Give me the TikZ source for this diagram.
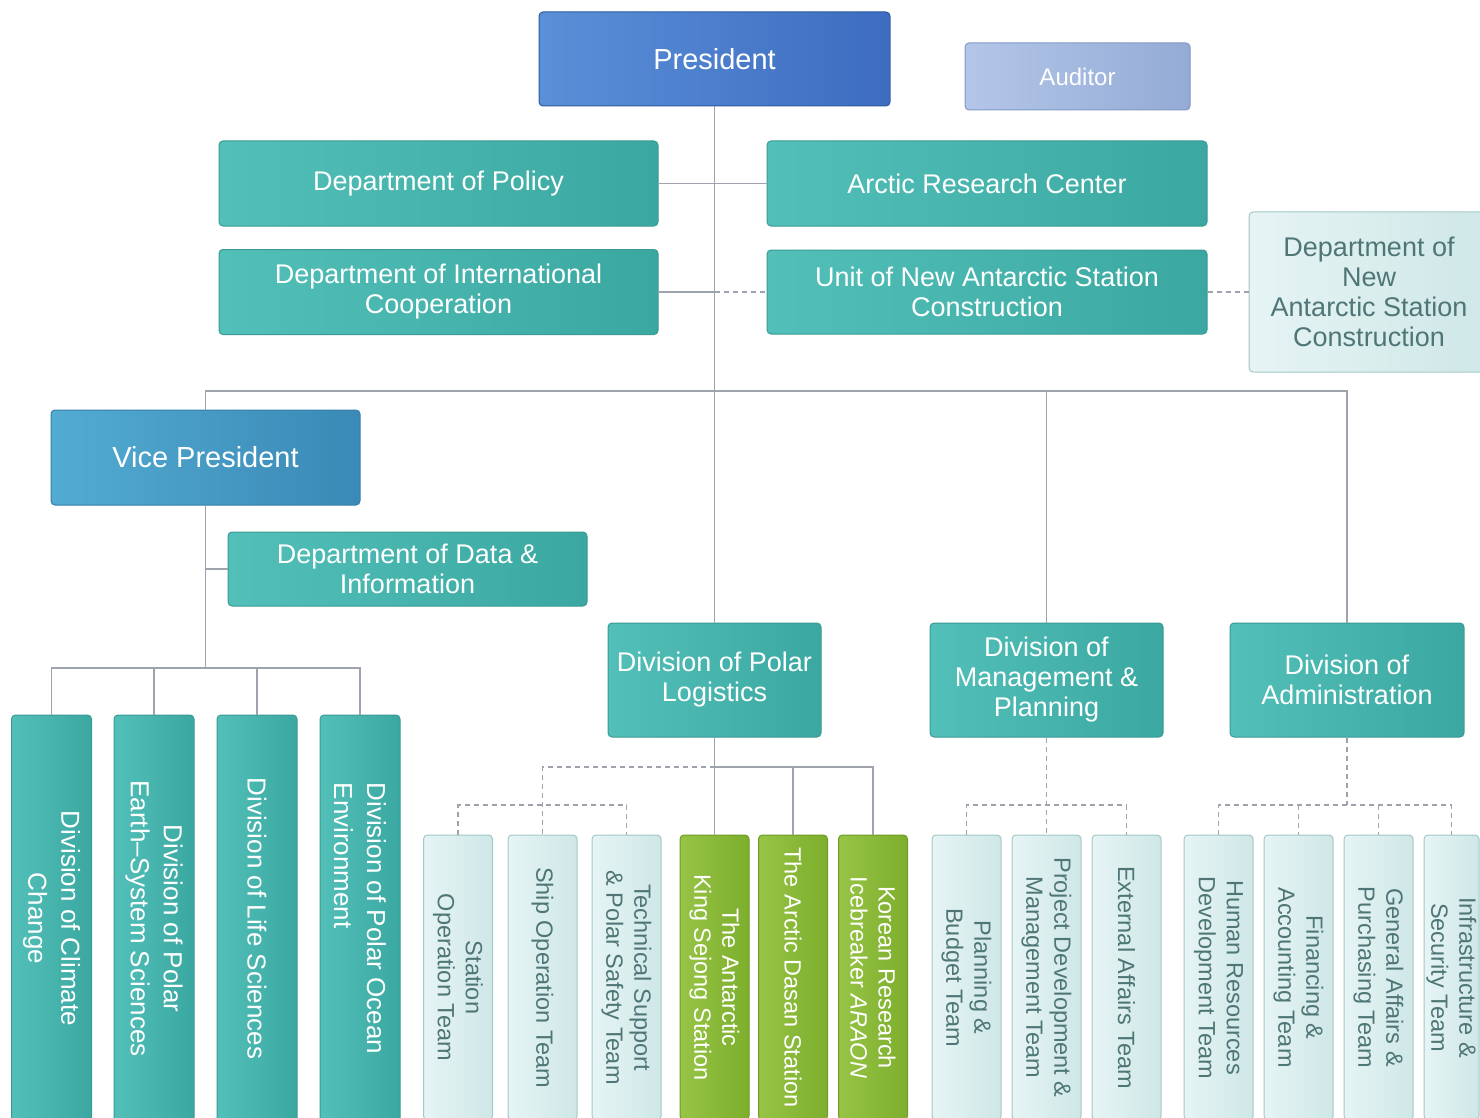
\documentclass[tikz,border=0pt]{standalone}
\usepackage{fontspec}
\setmainfont{Liberation Sans}
\definecolor{tealL}{HTML}{52C0B8}
\definecolor{tealR}{HTML}{3BA7A1}
\definecolor{tealB}{HTML}{3A9A94}
\definecolor{presL}{HTML}{5A90D8}
\definecolor{presR}{HTML}{3D6CC0}
\definecolor{presB}{HTML}{2F5A9E}
\definecolor{audL}{HTML}{B3C6E8}
\definecolor{audR}{HTML}{94ABD5}
\definecolor{audB}{HTML}{8299C4}
\definecolor{vpL}{HTML}{52ABD2}
\definecolor{vpR}{HTML}{3A89B6}
\definecolor{vpB}{HTML}{347FA8}
\definecolor{paleL}{HTML}{E6F4F4}
\definecolor{paleR}{HTML}{CFE7E7}
\definecolor{paleB}{HTML}{A3C8C8}
\definecolor{paleT}{HTML}{4F7676}
\definecolor{grnL}{HTML}{97C446}
\definecolor{grnR}{HTML}{7DAE2C}
\definecolor{grnB}{HTML}{6E9C26}
\definecolor{lineC}{HTML}{9EA3AD}
\tikzset{
  basebox/.style={rounded corners=4pt, line width=1pt, align=center, inner sep=2pt, text=white},
  tealbox/.style={basebox, draw=tealB, left color=tealL, right color=tealR, font=\fontsize{27}{30}\selectfont},
  presbox/.style={basebox, draw=presB, left color=presL, right color=presR, font=\fontsize{29}{32}\selectfont},
  audbox/.style={basebox, draw=audB, left color=audL, right color=audR, font=\fontsize{24}{28}\selectfont},
  vpbox/.style={basebox, draw=vpB, left color=vpL, right color=vpR, font=\fontsize{29}{32}\selectfont},
  palebox/.style={basebox, draw=paleB, left color=paleL, right color=paleR, text=paleT, font=\fontsize{27}{30}\selectfont},
  divbox/.style={tealbox, rotate=-90, minimum width=407pt, minimum height=80pt, font=\fontsize{26}{33}\selectfont},
  teambox/.style={basebox, rotate=-90, draw=paleB, left color=paleL, right color=paleR, text=paleT, minimum width=285pt, minimum height=69pt, font=\fontsize{23.5}{28}\selectfont},
  grnbox/.style={basebox, rotate=-90, draw=grnB, left color=grnL, right color=grnR, minimum width=285pt, minimum height=69pt, font=\fontsize{23.5}{28}\selectfont},
  conn/.style={draw=lineC, line width=1.5pt},
  dconn/.style={conn, dash pattern=on 5pt off 4pt},
}
\begin{document}
\begin{tikzpicture}[x=1pt,y=-1pt]
\useasboundingbox (0,0) rectangle (1480,1118);
\clip (0,0) rectangle (1480,1118);
\fill[white] (0,0) rectangle (1480,1118);
\coordinate (bus) at (0,391);
\coordinate (vbus) at (0,668);
\coordinate (lbus) at (0,767);
\coordinate (lsub) at (0,805);
% top level
\node[presbox, minimum width=351pt, minimum height=94pt] (pres) at (714.5,59) {President};
\node[audbox, minimum width=225pt, minimum height=67pt] (aud) at (1077.5,76.5) {Auditor};
\node[tealbox, minimum width=439pt, minimum height=85pt] (policy) at (438.5,183.5) {Department of Policy};
\node[tealbox, minimum width=440pt, minimum height=85pt] (arc) at (987,183.5) {Arctic Research Center};
\node[tealbox, minimum width=439pt, minimum height=85pt] (intl) at (438.5,292) {Department of International\\Cooperation};
\node[tealbox, minimum width=440pt, minimum height=84pt] (unas) at (987,292) {Unit of New Antarctic Station\\Construction};
\node[palebox, minimum width=240pt, minimum height=160pt] (dnas) at (1369,292) {Department of\\New\\Antarctic Station\\Construction};
\node[vpbox, minimum width=309pt, minimum height=95pt] (vp) at (205.5,457.5) {Vice President};
\node[tealbox, minimum width=359pt, minimum height=74pt] (data) at (407.5,569) {Department of Data \&\\Information};
\node[tealbox, minimum width=213pt, minimum height=114pt] (logi) at (714.5,680) {Division of Polar\\Logistics};
\node[tealbox, minimum width=233pt, minimum height=114pt] (mgmt) at (1046.5,680) {Division of\\Management \&\\Planning};
\node[tealbox, minimum width=234pt, minimum height=114pt] (admin) at (1347,680) {Division of\\Administration};
% research divisions
\node[divbox] (d1) at (51.5,918.5) {Division of Climate\\Change};
\node[divbox] (d2) at (154,918.5) {Division of Polar\\Earth–System Sciences};
\node[divbox] (d3) at (257,918.5) {Division of Life Sciences};
\node[divbox, align=left] (d4) at (360,918.5) {Division of Polar Ocean\\Environment};
% logistics teams
\node[teambox] (station) at (458,977.5) {Station\\Operation Team};
\node[teambox] (ship) at (542.5,977.5) {Ship Operation Team};
\node[teambox] (tech) at (626.5,977.5) {Technical Support\\\& Polar Safety Team};
\node[grnbox] (sejong) at (714.5,977.5) {The Antarctic\\King Sejong Station};
\node[grnbox] (dasan) at (793,977.5) {The Arctic Dasan Station};
\node[grnbox] (araon) at (873,977.5) {Korean Research\\Icebreaker \textit{ARAON}};
% management teams
\node[teambox] (plan) at (966.5,977.5) {Planning \&\\Budget Team};
\node[teambox] (proj) at (1046.5,977.5) {Project Development \&\\Management Team};
\node[teambox] (ext) at (1126.5,977.5) {External Affairs Team};
% administration teams
\node[teambox] (hr) at (1218.5,977.5) {Human Resources\\Development Team};
\node[teambox] (fin) at (1298.5,977.5) {Financing \&\\Accounting Team};
\node[teambox] (gen) at (1378.5,977.5) {General Affairs \&\\Purchasing Team};
\node[teambox, minimum height=55pt, inner sep=0pt] (infra) at (1451.5,977.5) {Infrastructure \&\\Security Team};
% connectors
\draw[conn] (pres.south) -- (logi.north);
\draw[conn] (policy.east) -- (arc.west);
\draw[conn] (intl.east) -- (intl.east -| pres.south);
\draw[dconn] (intl.east -| pres.south) -- (unas.west);
\draw[dconn] (unas.east) -- (dnas.west);
\draw[conn] (vp.north) -- (vp.north |- bus) -- (admin.north |- bus) -- (admin.north);
\draw[conn] (mgmt.north |- bus) -- (mgmt.north);
\draw[conn] (vp.south) -- (vp.south |- vbus);
\draw[conn] (data.west) -- (data.west -| vp.south);
\draw[conn] (d1.west) -- (d1.west |- vbus) -- (d4.west |- vbus) -- (d4.west);
\draw[conn] (d2.west |- vbus) -- (d2.west);
\draw[conn] (d3.west |- vbus) -- (d3.west);
\draw[conn] (logi.south) -- (sejong.west);
\draw[conn] (sejong.west |- lbus) -- (araon.west |- lbus) -- (araon.west);
\draw[conn] (dasan.west |- lbus) -- (dasan.west);
\draw[dconn] (sejong.west |- lbus) -- (ship.west |- lbus) -- (ship.west);
\draw[dconn] (station.west) -- (station.west |- lsub) -- (tech.west |- lsub) -- (tech.west);
\draw[dconn] (mgmt.south) -- (proj.west);
\draw[dconn] (plan.west) -- (plan.west |- lsub) -- (ext.west |- lsub) -- (ext.west);
\draw[dconn] (admin.south) -- (admin.south |- lsub);
\draw[dconn] (hr.west) -- (hr.west |- lsub) -- (infra.west |- lsub) -- (infra.west);
\draw[dconn] (fin.west |- lsub) -- (fin.west);
\draw[dconn] (gen.west |- lsub) -- (gen.west);
\end{tikzpicture}
\end{document}
